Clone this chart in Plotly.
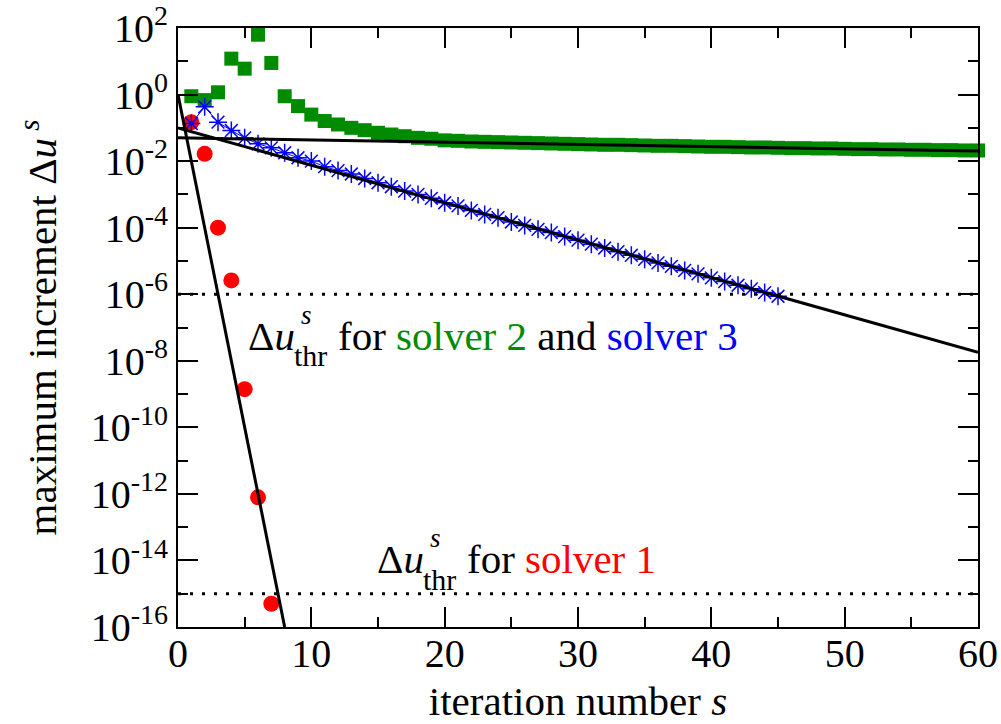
import plotly.graph_objects as go

# iteration numbers and maximum increments for the three solvers
s_solver1 = [1, 2, 3, 4, 5, 6, 7]
du_solver1 = [1.48e-1, 1.66e-2, 1.0e-4, 2.6e-6, 1.4e-9, 7.9e-13, 5.0e-16]

s_solver2 = list(range(1, 61))
du_solver2 = [
    0.89, 0.68, 1.17, 12.0, 6.0, 63.0, 8.9, 0.89, 0.45, 0.25,
    0.16, 0.126, 0.100, 0.085, 0.071, 0.063, 0.056, 0.050, 0.047, 0.042,
    0.0407, 0.0389, 0.0380, 0.0372, 0.0363, 0.0355, 0.0347, 0.0339, 0.0331, 0.0324,
    0.0316, 0.0309, 0.0309, 0.0302, 0.0295, 0.0288, 0.0288, 0.0282, 0.0275, 0.0269,
    0.0269, 0.0263, 0.0257, 0.0257, 0.0251, 0.0245, 0.0245, 0.0240, 0.0240, 0.0234,
    0.0229, 0.0229, 0.0224, 0.0224, 0.0219, 0.0219, 0.0214, 0.0214, 0.0209, 0.0209,
]

s_solver3 = list(range(1, 46))
du_solver3 = [
    0.135, 0.427, 0.148, 0.083, 0.050, 0.033, 0.025, 0.0178, 0.0126, 0.0100,
    6.8e-3, 5.2e-3, 4.1e-3, 3.0e-3, 2.24e-3, 1.70e-3, 1.26e-3, 1.0e-3, 7.6e-4, 5.6e-4,
    4.5e-4, 3.3e-4, 2.5e-4, 2.0e-4, 1.48e-4, 1.17e-4, 8.9e-5, 7.1e-5, 5.4e-5, 4.2e-5,
    3.2e-5, 2.45e-5, 1.9e-5, 1.48e-5, 1.12e-5, 8.7e-6, 6.9e-6, 5.2e-6, 4.1e-6, 3.1e-6,
    2.4e-6, 1.86e-6, 1.45e-6, 1.12e-6, 8.7e-7,
]

# exponential fits (straight lines on the log axis), given by their end points
fit1_s, fit1_du = [0, 8], [1.0, 1.0e-16]
fit2_s, fit2_du = [0, 60], [5.0e-2, 2.0e-2]
fit3_s, fit3_du = [0, 60], [1.0e-1, 1.8e-8]

# convergence thresholds
thr_s = [0, 60]
thr_solver23 = 1.0e-6
thr_solver1 = 1.0e-15

y_exponents = [2, 0, -2, -4, -6, -8, -10, -12, -14, -16]
y_minor_exponents = [1, -1, -3, -5, -7, -9, -11, -13, -15]
x_ticks = [0, 10, 20, 30, 40, 50, 60]
x_minor_ticks = [5, 15, 25, 35, 45, 55]

FONT = "Times New Roman"
GREEN = "#008b00"
BLUE = "#0000ff"
RED = "#ff0000"

fig = go.Figure()

fig.add_trace(go.Scatter(
    x=s_solver2, y=du_solver2, mode="markers", cliponaxis=False,
    marker=dict(symbol="square", size=14, color=GREEN, line=dict(width=0)),
    showlegend=False,
))
fig.add_trace(go.Scatter(
    x=s_solver1, y=du_solver1, mode="markers",
    marker=dict(symbol="circle", size=16, color=RED, line=dict(width=0)),
    showlegend=False,
))
fig.add_trace(go.Scatter(
    x=s_solver3, y=du_solver3, mode="lines+markers",
    line=dict(color=BLUE, width=1),
    marker=dict(symbol="asterisk-open", size=15, line=dict(color=BLUE, width=1.5)),
    showlegend=False,
))

for fs, fdu in [(fit1_s, fit1_du), (fit2_s, fit2_du), (fit3_s, fit3_du)]:
    fig.add_trace(go.Scatter(
        x=fs, y=fdu, mode="lines", line=dict(color="black", width=3),
        showlegend=False,
    ))

for thr in [thr_solver23, thr_solver1]:
    fig.add_trace(go.Scatter(
        x=thr_s, y=[thr, thr], mode="lines",
        line=dict(color="black", width=3, dash="3px,9px"),
        showlegend=False,
    ))


def threshold_label(x0, y0, rest):
    """Place 'Δu' with stacked s / thr indices followed by the rest of the text."""
    fig.add_annotation(x=x0, y=y0, xref="x", yref="y", text="Δ<i>u</i>",
                       showarrow=False, xanchor="left", yanchor="middle",
                       font=dict(family=FONT, size=41, color="black"))
    fig.add_annotation(x=x0 + 3.98, y=y0 + 0.62, xref="x", yref="y", text="<i>s</i>",
                       showarrow=False, xanchor="left", yanchor="middle",
                       font=dict(family=FONT, size=27, color="black"))
    fig.add_annotation(x=x0 + 3.45, y=y0 - 0.6, xref="x", yref="y", text="thr",
                       showarrow=False, xanchor="left", yanchor="middle",
                       font=dict(family=FONT, size=30, color="black"))
    fig.add_annotation(x=x0 + 6.75, y=y0, xref="x", yref="y", text=rest,
                       showarrow=False, xanchor="left", yanchor="middle",
                       font=dict(family=FONT, size=41, color="black"))


threshold_label(
    5.1, -7.25,
    f"for <span style='color:{GREEN}'>solver 2</span> and "
    f"<span style='color:{BLUE}'>solver 3</span>",
)
threshold_label(
    14.75, -13.96,
    f"for <span style='color:{RED}'>solver 1</span>",
)

axis_common = dict(
    showline=True, linecolor="black", linewidth=2, mirror="ticks",
    ticks="inside", ticklen=20, tickwidth=2, tickcolor="black",
    showgrid=False, zeroline=False, automargin=False,
    tickfont=dict(family=FONT, size=40, color="black"),
)

fig.update_xaxes(
    range=[0, 60], tickmode="array", tickvals=x_ticks,
    ticktext=[str(v) for v in x_ticks], ticklabelstandoff=-10,
    minor=dict(tickvals=x_minor_ticks, ticks="inside", ticklen=10,
               tickwidth=2, tickcolor="black", showgrid=False),
    title=dict(text="iteration number <i>s</i>", standoff=35,
               font=dict(family=FONT, size=41, color="black")),
    **axis_common,
)
fig.update_yaxes(
    type="log", range=[-16, 2], tickmode="array",
    tickvals=[10.0 ** e for e in y_exponents],
    ticktext=[f"10<sup>{e}</sup>" for e in y_exponents],
    minor=dict(tickvals=[10.0 ** e for e in y_minor_exponents], ticks="inside",
               ticklen=10, tickwidth=2, tickcolor="black", showgrid=False),
    title=dict(text="maximum increment Δ<i>u</i><sup> <i>s</i></sup>", standoff=21,
               font=dict(family=FONT, size=41, color="black")),
    **axis_common,
)

fig.update_layout(
    width=1001, height=724, autosize=False,
    margin=dict(l=178, r=23, t=28, b=97),
    plot_bgcolor="white", paper_bgcolor="white",
    font=dict(family=FONT, color="black"),
)

fig.write_html("out.html")
